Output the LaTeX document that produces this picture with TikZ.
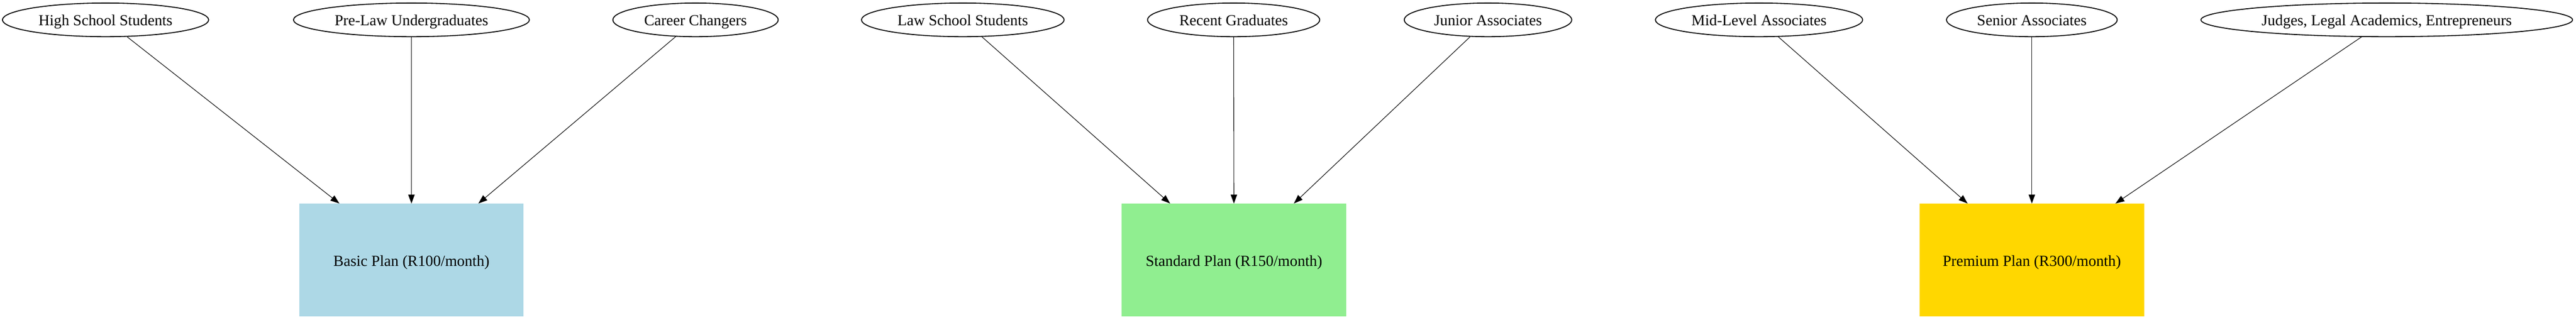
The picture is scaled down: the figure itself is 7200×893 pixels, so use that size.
\documentclass[tikz,border=0pt]{standalone}
\usepackage{fontspec}
\setmainfont{Liberation Serif}
\usetikzlibrary{shapes.geometric,arrows.meta}
\definecolor{gvlightblue}{HTML}{ADD8E6}
\definecolor{gvlightgreen}{HTML}{90EE90}
\definecolor{gvgold}{HTML}{FFD700}
\begin{document}
\begin{tikzpicture}[x=0.01cm,y=0.01cm,
  every node/.style={font=\fontsize{12.2}{14}\selectfont, text height=0.40cm, text depth=0.076cm, inner sep=0pt},
  segment/.style={ellipse, draw=black, line width=0.75pt, minimum height=0.94cm},
  plan/.style={rectangle, draw=none, minimum width=6.27cm, minimum height=3.15cm},
  edge/.style={draw=black, line width=0.45pt, -{Triangle[length=0.25cm,width=0.18cm]}}]
\useasboundingbox (0,0) rectangle (7200,893);
% plans
\node[plan, fill=gvlightblue] (basic) at (1150,166) {Basic Plan (R100/month)};
\node[plan, fill=gvlightgreen] (standard) at (3449,166) {Standard Plan (R150/month)};
\node[plan, fill=gvgold] (premium) at (5679,166) {Premium Plan (R300/month)};
% segments
\node[segment, minimum width=5.76cm] (hss) at (295,837.5) {High School Students};
\node[segment, minimum width=6.59cm] (prelaw) at (1150,837.5) {Pre-Law Undergraduates};
\node[segment, minimum width=4.62cm] (career) at (1944,837.5) {Career Changers};
\node[segment, minimum width=5.66cm] (lawschool) at (2691,837.5) {Law School Students};
\node[segment, minimum width=4.81cm] (recent) at (3448,837.5) {Recent Graduates};
\node[segment, minimum width=4.68cm] (junior) at (4159,837.5) {Junior Associates};
\node[segment, minimum width=5.79cm] (mid) at (4916.5,837.5) {Mid-Level Associates};
\node[segment, minimum width=4.77cm] (senior) at (5679,837.5) {Senior Associates};
\node[segment, minimum width=10.38cm] (judges) at (6671,837.5) {Judges, Legal Academics, Entrepreneurs};
% edges
\draw[edge] (hss) -- (basic);
\draw[edge] (prelaw) -- (basic);
\draw[edge] (career) -- (basic);
\draw[edge] (lawschool) -- (standard);
\draw[edge] (recent) -- (standard);
\draw[edge] (junior) -- (standard);
\draw[edge] (mid) -- (premium);
\draw[edge] (senior) -- (premium);
\draw[edge] (judges) -- (premium);
\end{tikzpicture}
\end{document}
